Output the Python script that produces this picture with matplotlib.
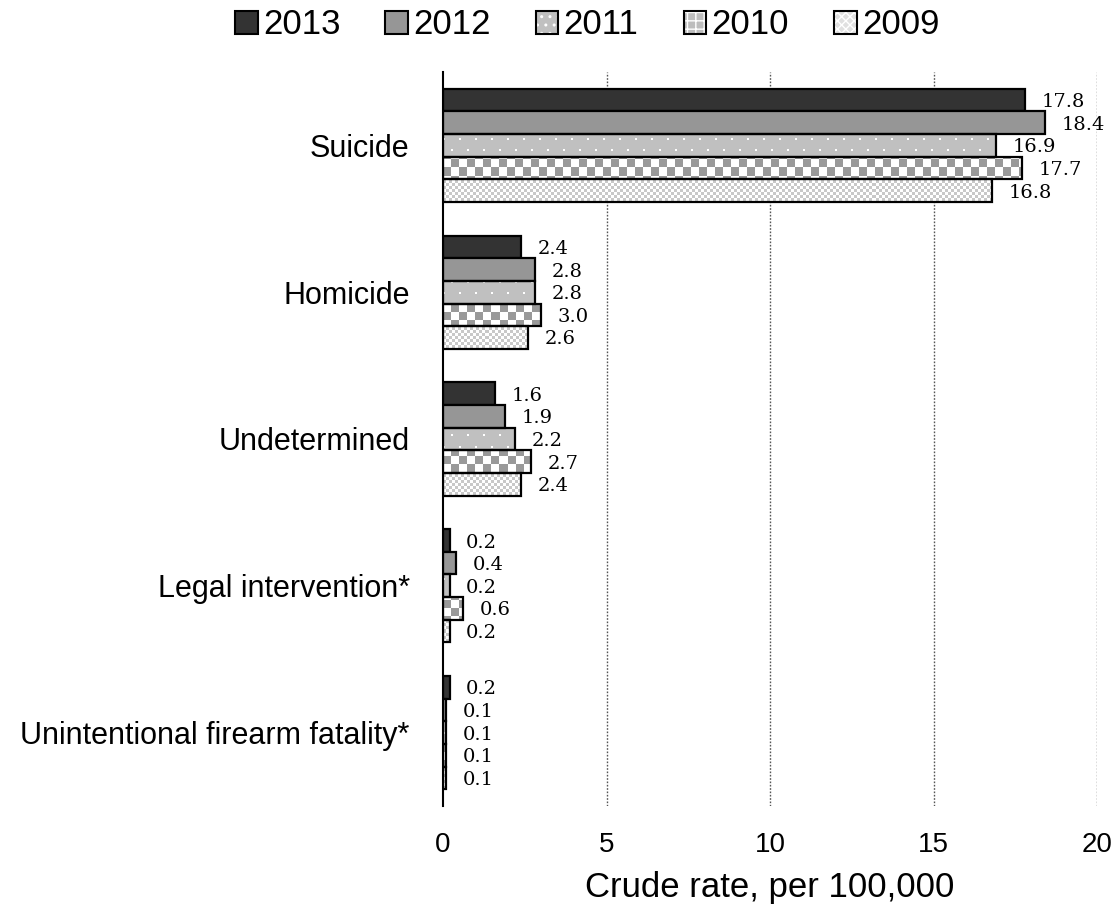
import numpy as np
import matplotlib
matplotlib.use("Agg")
import matplotlib.pyplot as plt
from matplotlib import font_manager
from matplotlib.patches import Patch
from matplotlib.legend_handler import HandlerTuple

categories = ["Suicide", "Homicide", "Undetermined", "Legal intervention*",
              "Unintentional firearm fatality*"]
years = ["2013", "2012", "2011", "2010", "2009"]
values = {
    "2013": [17.8, 2.4, 1.6, 0.2, 0.2],
    "2012": [18.4, 2.8, 1.9, 0.4, 0.1],
    "2011": [16.9, 2.8, 2.2, 0.2, 0.1],
    "2010": [17.7, 3.0, 2.7, 0.6, 0.1],
    "2009": [16.8, 2.6, 2.4, 0.2, 0.1],
}
x_ticks = [0, 5, 10, 15, 20]
x_label = "Crude rate, per 100,000"


def pick(fams):
    for f in fams:
        try:
            font_manager.findfont(f, fallback_to_default=False)
            return f
        except Exception:
            pass
    return "DejaVu Sans"


SANS = pick(["Liberation Sans Narrow", "Liberation Sans"])
SERIF = pick(["DejaVu Serif", "Liberation Serif"])

W, H = 1112, 911
fig = plt.figure(figsize=(W / 100, H / 100), dpi=100)
L, R, T, B = 443, 1097, 72, 806
ax = fig.add_axes([L / W, 1 - B / H, (R - L) / W, (B - T) / H])

AXW, AXH = R - L, B - T
rr, cc = np.mgrid[0:AXH, 0:AXW]


def rgb(h):
    h = h.lstrip("#")
    return np.array([int(h[i:i + 2], 16) / 255 for i in (0, 2, 4)])


def make_pattern(kind):
    img = np.ones((AXH, AXW, 3))
    if kind == "dots":
        img[:] = rgb("#c0c0c0")
        row = rr % 22
        col = cc % 16
        m1 = (row < 2) & (col < 2)
        m2 = (row >= 11) & (row < 13) & (col >= 8) & (col < 10)
        img[m1 | m2] = 1.0
    elif kind == "bigcheck":
        m = ((rr // 8) + (cc // 8)) % 2 == 0
        img[:] = 1.0
        img[m] = rgb("#999999")
    elif kind == "smallcheck":
        m = ((rr // 3) + (cc // 3)) % 2 == 0
        img[:] = 1.0
        img[m] = rgb("#c8c8c8")
    return img


styles = {
    "2013": dict(face="#333333", pattern=None),
    "2012": dict(face="#969696", pattern=None),
    "2011": dict(face="#c0c0c0", pattern="dots"),
    "2010": dict(face="#bdbdbd", pattern="bigcheck"),
    "2009": dict(face="#e0e0e0", pattern="smallcheck"),
}

n = len(years)
group = 0.77
bh = group / n
ypos = np.arange(len(categories))

ax.set_xlim(0, 20)
ax.set_ylim(len(categories) - 0.5, -0.5)

for j, yr in enumerate(years):
    off = -group / 2 + bh * (j + 0.5)
    st = styles[yr]
    bars = ax.barh(ypos + off, values[yr], height=bh, color=st["face"],
                   edgecolor="black", linewidth=1.6, zorder=3)
    if st["pattern"] is not None:
        pat = make_pattern(st["pattern"])
        for b in bars:
            b.set_facecolor("none")
            im = ax.imshow(pat, extent=[0, 1, 0, 1], transform=ax.transAxes,
                           interpolation="nearest", aspect="auto", zorder=2)
            im.set_clip_path(b)
    for yv, v in zip(ypos + off, values[yr]):
        ax.annotate(f"{v:.1f}", xy=(v, yv), xytext=(12, -1.5),
                    textcoords="offset points", va="center", ha="left",
                    fontsize=14, family=SERIF, color="black", zorder=5)

ax.set_xlim(0, 20)
ax.set_ylim(len(categories) - 0.5, -0.5)
ax.set_aspect("auto")

ax.set_xticks(x_ticks)
ax.set_xticklabels([str(t) for t in x_ticks], fontsize=20, family=SANS)
ax.set_yticks(ypos)
ax.set_yticklabels(categories, fontsize=22, family=SANS)
ax.tick_params(axis="x", length=0, pad=19)
ax.tick_params(axis="y", length=0, pad=24)
ax.set_xlabel(x_label, fontsize=25, family=SANS, labelpad=9)

for s in ["top", "right", "bottom"]:
    ax.spines[s].set_visible(False)
ax.spines["left"].set_linewidth(1.5)
ax.spines["left"].set_zorder(6)

for xv in x_ticks[1:]:
    ax.axvline(xv, color="#555555", linestyle=(0, (1.2, 1.2)), linewidth=1.0, zorder=1)

handles = []
legend_hatch = {"2011": "..", "2010": "++", "2009": "xxxx"}
for yr in years:
    st = styles[yr]
    if yr in legend_hatch:
        h = (Patch(facecolor=st["face"], edgecolor="none"),
             Patch(facecolor="none", edgecolor="white", hatch=legend_hatch[yr], linewidth=0),
             Patch(facecolor="none", edgecolor="black", linewidth=1.5))
    else:
        h = Patch(facecolor=st["face"], edgecolor="black", linewidth=1.5)
    handles.append(h)

fig.legend(handles, years, loc="center", bbox_to_anchor=(0.528, 1 - 25 / H),
           ncol=5, frameon=False, handler_map={tuple: HandlerTuple(ndivide=1, pad=0)},
           prop={"family": SANS, "size": 25}, handlelength=0.65, handleheight=0.65,
           handletextpad=0.15, columnspacing=1.3, borderpad=0)

fig.savefig("out.png", dpi=100)
